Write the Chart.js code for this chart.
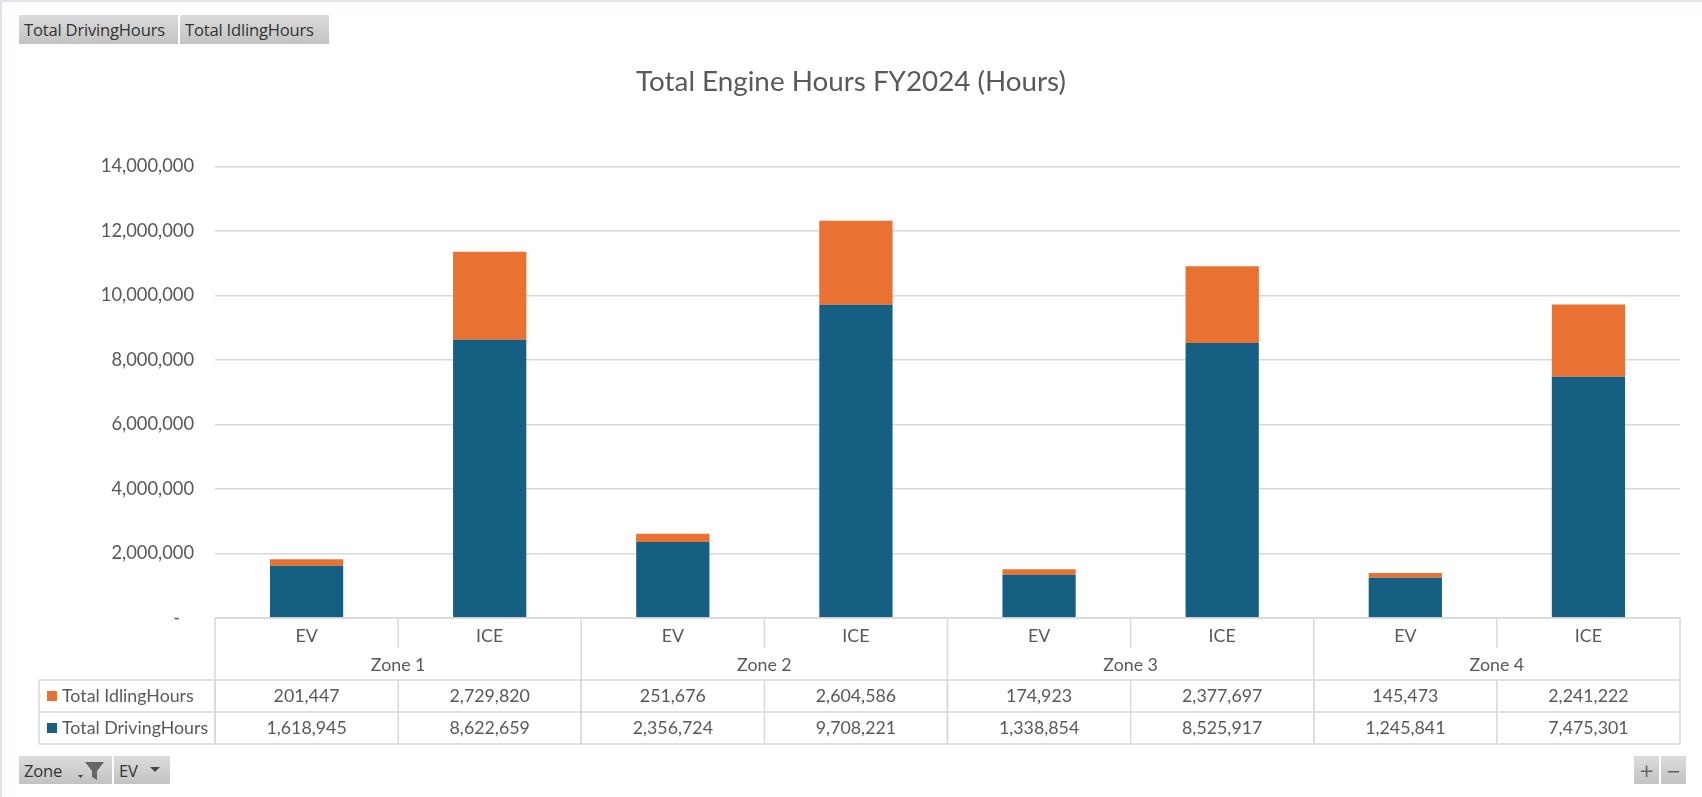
<!DOCTYPE html>
<html><head><meta charset="utf-8">
<script src="https://cdn.jsdelivr.net/npm/chart.js@4"></script>
<style>
html,body{margin:0;padding:0;background:#fff;overflow:hidden}
#wrap{position:relative;width:1702px;height:797px;background:#fff}
#frameL{position:absolute;left:0;top:0;width:2px;height:797px;background:#dfe4ea}
#frameT{position:absolute;left:0;top:0;width:1702px;height:2px;background:#dfe4ea}
canvas{position:absolute;left:0;top:0}
.btn{position:absolute;box-sizing:border-box;background:linear-gradient(#dcdcdc,#c2c2c2);color:#333;font:16.6px "Open Sans",sans-serif;display:flex;align-items:center;white-space:nowrap;padding-left:5px;letter-spacing:-.2px}
.pm{justify-content:center;padding:0;font-size:24px;color:#666}
svg{position:absolute}
</style></head><body>
<div id="wrap">
<canvas id="c" width="1702" height="797"></canvas>
<div id="frameL"></div><div id="frameT"></div>
<div class="btn" style="left:19px;top:15px;width:159px;height:29px">Total DrivingHours</div>
<div class="btn" style="left:180px;top:15px;width:149px;height:29px">Total IdlingHours</div>
<div class="btn" style="left:19px;top:756px;width:93px;height:28px">Zone<svg style="left:59px;top:6px" width="30" height="18"><path d="M0 13h5l-2.500 3z" fill="#444"/><path d="M7 0h19l-7 9v9l-5-3v-6z" fill="#666"/></svg></div>
<div class="btn" style="left:114px;top:756px;width:56px;height:28px">EV<svg style="left:36px;top:11px" width="12" height="7"><path d="M0 0h10l-5 5z" fill="#444"/></svg></div>
<div class="btn pm" style="left:1634px;top:756px;width:25px;height:28px">+</div>
<div class="btn pm" style="left:1661px;top:756px;width:25px;height:28px">−</div>
</div>
<script>
const titleText = 'Total Engine Hours FY2024 (Hours)';
const zones = ['Zone 1','Zone 2','Zone 3','Zone 4'];
const categories = ['EV','ICE','EV','ICE','EV','ICE','EV','ICE'];
const idlingLabel = 'Total IdlingHours';
const drivingLabel = 'Total DrivingHours';
const idling = [201447,2729820,251676,2604586,174923,2377697,145473,2241222];
const driving = [1618945,8622659,2356724,9708221,1338854,8525917,1245841,7475301];
const orange = '#e97132', blue = '#156082', grid = '#d9d9d9', textCol = '#595959';
const fontFam = 'Lato, sans-serif';

const tablePlugin = {
  id:'tablePlugin',
  afterDraw(chart){
    const {ctx, chartArea:a, scales:{x}} = chart;
    const step = x.getPixelForValue(1) - x.getPixelForValue(0);
    const L = x.getPixelForValue(0) - step/2;
    const cellEdge = i => L + i*step;
    const yTop = a.bottom, yZone = 680, yR1 = 712, yR2 = 744, tblLeft = 39, ySep = 648;
    ctx.save();
    ctx.strokeStyle = grid; ctx.lineWidth = 1.5;
    const line = (x1,y1,x2,y2)=>{ctx.beginPath();ctx.moveTo(x1,y1);ctx.lineTo(x2,y2);ctx.stroke();};
    line(L,yTop,a.right,yTop);
    [yZone,yR1,yR2].forEach(y=>line(tblLeft,y,a.right,y));
    line(tblLeft,yZone,tblLeft,yR2);
    categories.forEach((c,i)=>{
      line(cellEdge(i),yTop,cellEdge(i),(i%2===0)?yR2:ySep);
      line(cellEdge(i),yZone,cellEdge(i),yR2);
    });
    line(a.right,yTop,a.right,yR2);
    ctx.fillStyle = textCol; ctx.font = '17.8px '+fontFam;
    ctx.textAlign='center'; ctx.textBaseline='middle';
    zones.forEach((z,i)=>ctx.fillText(z,cellEdge(i*2+1),665));
    categories.forEach((c,i)=>{
      const cx = x.getPixelForValue(i);
      ctx.fillText(idling[i].toLocaleString('en-US'),cx,696);
      ctx.fillText(driving[i].toLocaleString('en-US'),cx,728);
    });
    ctx.textAlign='left';
    ctx.fillText(idlingLabel,62,696);
    ctx.fillText(drivingLabel,62,728);
    ctx.fillStyle=orange; ctx.fillRect(47,691,10,10);
    ctx.fillStyle=blue; ctx.fillRect(47,723,10,10);
    ctx.restore();
  }
};

new Chart(document.getElementById('c'),{
  type:'bar',
  data:{labels:categories,datasets:[
    {label:drivingLabel,data:driving,backgroundColor:blue,stack:'s',barPercentage:.4,categoryPercentage:1},
    {label:idlingLabel,data:idling,backgroundColor:orange,stack:'s',barPercentage:.4,categoryPercentage:1}
  ]},
  options:{
    responsive:false,animation:false,
    layout:{padding:{left:22,right:22,top:0,bottom:0}},
    plugins:{
      legend:{display:false},tooltip:{enabled:false},
      title:{display:true,text:titleText,color:textCol,font:{family:fontFam,size:27.8,weight:'normal'},padding:{top:65,bottom:68}}
    },
    scales:{
      x:{stacked:true,
        grid:{display:false},border:{display:false},
        ticks:{color:textCol,font:{family:fontFam,size:17.8},padding:0,maxRotation:0,autoSkip:false},
        afterFit(s){s.height=179;}
      },
      y:{stacked:true,min:0,max:14000000,
        grid:{color:grid,lineWidth:1.5,drawTicks:false},border:{display:false},
        ticks:{stepSize:2000000,color:textCol,font:{family:fontFam,size:18.3},padding:21,
          callback:v=>v===0?'-   ':v.toLocaleString('en-US')},
        afterFit(s){s.width=193;}
      }
    }
  },
  plugins:[tablePlugin]
});
</script>
</body></html>
